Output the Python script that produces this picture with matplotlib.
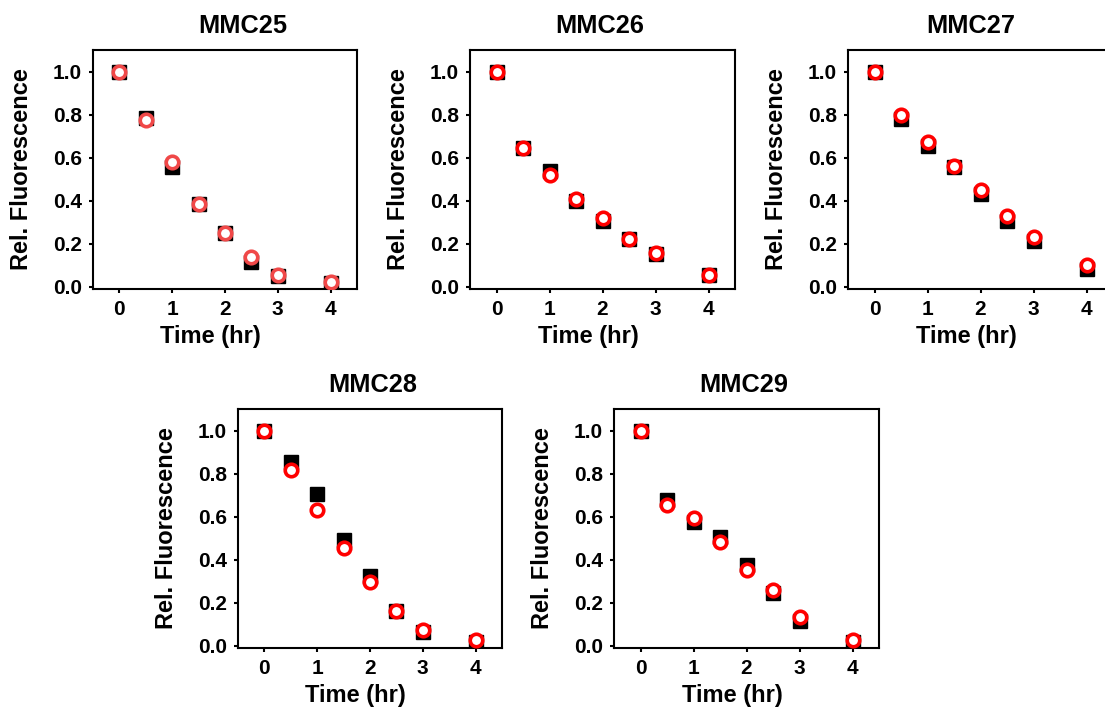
import matplotlib
matplotlib.use("Agg")
import matplotlib.pyplot as plt

plt.rcParams['font.family'] = ['Liberation Sans', 'DejaVu Sans']
plt.rcParams['font.weight'] = 'bold'

time = [0, 0.5, 1, 1.5, 2, 2.5, 3, 4]

names = ["MMC25", "MMC26", "MMC27", "MMC28", "MMC29"]

# black squares
sq_25 = [1.0, 0.785, 0.556, 0.384, 0.250, 0.116, 0.050, 0.020]
sq_26 = [1.0, 0.645, 0.537, 0.397, 0.305, 0.222, 0.152, 0.053]
sq_27 = [1.0, 0.778, 0.652, 0.556, 0.430, 0.306, 0.211, 0.085]
sq_28 = [1.0, 0.853, 0.705, 0.491, 0.326, 0.160, 0.065, 0.020]
sq_29 = [1.0, 0.679, 0.574, 0.504, 0.377, 0.245, 0.116, 0.016]

# red open circles
ci_25 = [1.0, 0.773, 0.579, 0.384, 0.252, 0.137, 0.057, 0.024]
ci_26 = [1.0, 0.647, 0.520, 0.408, 0.318, 0.223, 0.157, 0.053]
ci_27 = [1.0, 0.798, 0.671, 0.563, 0.448, 0.329, 0.231, 0.100]
ci_28 = [1.0, 0.817, 0.633, 0.454, 0.295, 0.160, 0.073, 0.026]
ci_29 = [1.0, 0.656, 0.594, 0.484, 0.352, 0.260, 0.136, 0.028]

squares = [sq_25, sq_26, sq_27, sq_28, sq_29]
circles = [ci_25, ci_26, ci_27, ci_28, ci_29]
circle_colors = ['#F04848', 'red', 'red', 'red', 'red']

W, H = 1105, 711
# axes boxes in pixels: left, top, right, bottom
boxes = [(93, 50, 357, 289), (470, 50, 735, 289), (848, 50, 1113, 289),
         (238, 409, 502, 648), (614, 409, 879, 648)]
title_x = [0.568, 0.49, 0.465, 0.51, 0.49]

fig = plt.figure(figsize=(W / 100, H / 100), dpi=100)

for i in range(5):
    l, t, r, b = boxes[i]
    ax = fig.add_axes([l / W, 1 - b / H, (r - l) / W, (b - t) / H])
    ax.plot(time, squares[i], 's', color='black', markersize=9.6, zorder=2)
    ax.plot(time, circles[i], 'o', markerfacecolor='white',
            markeredgecolor=circle_colors[i], markersize=9,
            markeredgewidth=2.6, zorder=3)
    ax.set_xlim(-0.5, 4.5)
    ax.set_ylim(-0.01, 1.1)
    ax.set_xticks([0, 1, 2, 3, 4])
    ax.set_yticks([0, 0.2, 0.4, 0.6, 0.8, 1.0])
    ax.set_yticklabels(['0.0', '0.2', '0.4', '0.6', '0.8', '1.0'])
    for s in ax.spines.values():
        s.set_linewidth(1.5)
    ax.tick_params(axis='both', direction='out', length=3, width=1.5,
                   labelsize=15, pad=5)
    ax.set_xlabel('Time (hr)', fontsize=17, fontweight='bold')
    ax.set_ylabel('Rel. Fluorescence', fontsize=17, fontweight='bold')
    ax.xaxis.label.set_va('center')
    ax.yaxis.label.set_va('center')
    ax.xaxis.set_label_coords(0.445, -0.2)
    ax.yaxis.set_label_coords(-0.27, 0.5)
    ax.set_title(names[i], fontsize=18.3, fontweight='bold',
                 x=title_x[i], y=1.071, pad=0)

fig.savefig('out.png', dpi=100)
